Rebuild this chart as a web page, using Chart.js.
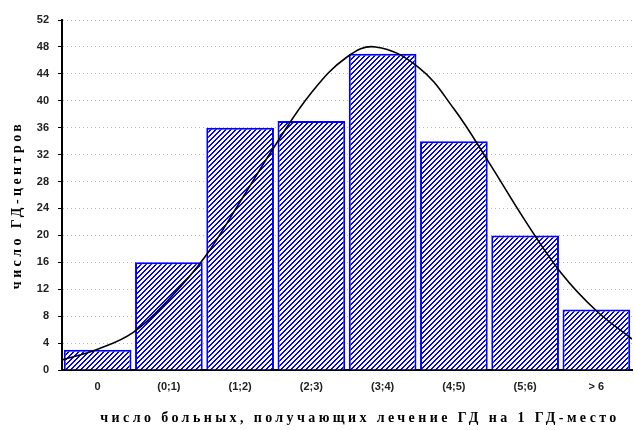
<!DOCTYPE html>
<html>
<head>
<meta charset="utf-8">
<script src="https://cdn.jsdelivr.net/npm/chart.js@4.4.1/dist/chart.umd.min.js"></script>
<style>
  html, body { margin: 0; padding: 0; background: #fff; }
  canvas { display: block; }
</style>
</head>
<body>
<canvas id="hist" width="635" height="430"></canvas>
<script>
// Категории (интервалы) и число ГД-центров
const categories = ['0', '(0;1)', '(1;2)', '(2;3)', '(3;4)', '(4;5)', '(5;6)', '> 6'];
const counts = [3, 16, 36, 37, 47, 34, 20, 9];

// Кривая нормального распределения (x в единицах интервалов)
const curveX = [0, 0.5, 1, 1.5, 2, 2.5, 3, 3.5, 4, 4.4, 5, 5.5, 6, 6.5, 7, 7.5, 8];
const curveY = [1.5, 3.1, 5.6, 10.5, 16.7, 25, 33.5, 41.2, 46.5, 48, 45, 38.8, 30.7, 22.2, 14.5, 8.8, 4.6];

const yTitle = 'число ГД-центров';
const xTitle = 'число больных, получающих лечение ГД на 1 ГД-место';

// штриховка "/" синим, шаг 5 пикселей
function hatchPattern() {
  const n = 5;
  const c = document.createElement('canvas');
  c.width = n; c.height = n;
  const g = c.getContext('2d');
  g.fillStyle = '#fff';
  g.fillRect(0, 0, n, n);
  g.fillStyle = '#0000ff';
  for (let r = 0; r < n; r++) {
    g.fillRect(n - 1 - r, r, 1, 1);
    g.fillRect((n - r) % n, r, 1, 1);
  }
  return g.createPattern(c, 'repeat');
}

// подписи осей с разрядкой
const axisTitles = {
  id: 'axisTitles',
  afterDraw(chart) {
    const ctx = chart.ctx;
    ctx.save();
    ctx.fillStyle = '#000';
    ctx.font = 'bold 14px "Liberation Serif"';
    ctx.textAlign = 'center';
    ctx.textBaseline = 'middle';
    ctx.letterSpacing = '3.4px';
    ctx.fillText(xTitle, 360, 418);
    ctx.translate(17, 205);
    ctx.rotate(-Math.PI / 2);
    ctx.fillText(yTitle, 0, 0);
    ctx.restore();
  }
};

const curveData = curveX.map((x, i) => ({ x: x, y: curveY[i] }));

new Chart(document.getElementById('hist'), {
  type: 'bar',
  data: {
    labels: categories,
    datasets: [{
      type: 'bar',
      data: counts,
      backgroundColor: hatchPattern(),
      borderColor: '#0000ff',
      borderWidth: 2,
      grouped: false,
      barPercentage: 0.95,
      categoryPercentage: 1,
      order: 1
    }, {
      type: 'line',
      data: curveData,
      xAxisID: 'x2',
      borderColor: '#000',
      borderWidth: 1.6,
      pointRadius: 0,
      tension: 0.4,
      fill: false,
      order: 0
    }]
  },
  options: {
    responsive: false,
    animation: false,
    layout: { padding: { top: 20, right: 3 } },
    plugins: {
      legend: { display: false },
      tooltip: { enabled: false }
    },
    scales: {
      x: {
        grid: { display: false },
        border: { color: '#000', width: 2 },
        ticks: {
          color: '#222',
          font: { family: 'Liberation Sans', size: 11, weight: 'bold' },
          padding: 2,
          maxRotation: 0
        },
        afterFit: (s) => { s.height = 60; }
      },
      x2: {
        type: 'linear',
        display: false,
        offset: false,
        min: 0,
        max: 8
      },
      y: {
        min: 0,
        max: 52,
        grid: { color: '#bbb', lineWidth: 1, tickLength: 4, tickColor: '#000' },
        border: { color: '#000', width: 2, dash: [1, 3] },
        ticks: {
          stepSize: 4,
          color: '#222',
          font: { family: 'Liberation Sans', size: 11, weight: 'bold' },
          padding: 9
        },
        afterFit: (s) => { s.width = 62; }
      }
    }
  },
  plugins: [axisTitles]
});
</script>
</body>
</html>
